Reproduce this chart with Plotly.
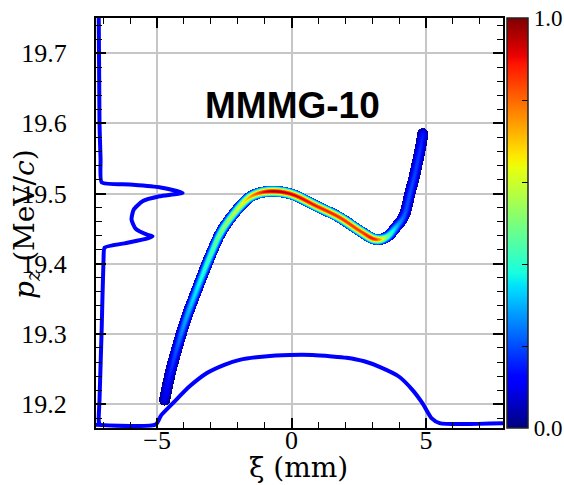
import numpy as np
import plotly.graph_objects as go

# ---- axis ranges -------------------------------------------------------
X_RANGE = [-7.27, 7.86]      # xi (mm)
Y_RANGE = [19.166, 19.75]    # p_z (MeV/c)

# ---- beam centreline in longitudinal phase space -----------------------
beam_xi = [-4.72, -4.54, -4.28, -3.90, -3.42, -2.97, -2.56, -1.93, -1.45,
           -0.80, 0.00, 0.93, 1.78, 2.53, 3.09, 3.53, 3.90, 4.20, 4.40,
           4.58, 4.72, 4.83, 4.88]
beam_pz = [19.206, 19.239, 19.277, 19.324, 19.373, 19.416, 19.449, 19.481,
           19.497, 19.503, 19.499, 19.482, 19.466, 19.447, 19.435, 19.438,
           19.453, 19.470, 19.500, 19.527, 19.552, 19.573, 19.585]
# normalised peak density along the centreline
beam_density = [0.10, 0.15, 0.21, 0.30, 0.38, 0.45, 0.52, 0.62, 0.78,
                0.96, 0.94, 0.90, 0.88, 0.86, 0.88, 0.52, 0.32, 0.22, 0.20,
                0.19, 0.18, 0.16, 0.14]

# ---- energy spectrum drawn along the left edge -------------------------
spec_xi = [-7.17, -7.14, -7.10, -7.06, -6.02, -4.91, -4.05, -4.91, -5.54,
           -5.87, -5.95, -5.80, -5.35, -5.17, -5.35, -6.21, -6.95, -6.99,
           -7.06, -7.14, -7.17, -7.14]
spec_pz = [19.76, 19.60, 19.549, 19.516, 19.513, 19.509, 19.501, 19.496,
           19.489, 19.477, 19.463, 19.450, 19.441, 19.439, 19.436, 19.429,
           19.423, 19.406, 19.306, 19.206, 19.177, 19.171]

# ---- current profile drawn along the bottom edge -----------------------
curr_xi = [-7.4, -5.05, -4.85, -4.42, -3.80, -3.16, -2.50, -1.93, -1.00,
           -0.07, 0.78, 1.50, 2.04, 2.70, 3.27, 4.00, 4.50, 4.87, 5.20,
           5.50, 8.0]
curr_pz = [19.171, 19.171, 19.184, 19.201, 19.225, 19.244, 19.256, 19.263,
           19.268, 19.270, 19.270, 19.268, 19.266, 19.261, 19.253, 19.239,
           19.220, 19.201, 19.180, 19.173, 19.173]

# ---- colour bar ticks ---------------------------------------------------
cbar_vals = [0.0, 0.2, 0.4, 0.6, 0.8, 1.0]
cbar_text = ["0.0", "", "", "", "", "1.0"]

# ---- figure geometry ------------------------------------------------------
W, H = 564, 485
ML, MR, MT, MB = 96, 61, 18, 57
PW, PH = W - ML - MR, H - MT - MB
KX = PW / (X_RANGE[1] - X_RANGE[0])   # px per mm
KY = PH / (Y_RANGE[1] - Y_RANGE[0])   # px per MeV/c

TICK_FONT = dict(family="Liberation Serif", size=26, color="black")
CBAR_FONT = dict(family="Liberation Serif", size=23, color="black")
LABEL_FONT = dict(family="DejaVu Serif", size=28, color="black")


def jet_scale(n=64):
    """matplotlib-style jet colour map as a plotly colorscale."""
    t = np.linspace(0, 1, n)
    r = np.interp(t, [0, 0.35, 0.66, 0.89, 1], [0, 0, 1, 1, 0.5])
    g = np.interp(t, [0, 0.125, 0.375, 0.64, 0.91, 1], [0, 0, 1, 1, 0, 0])
    b = np.interp(t, [0, 0.11, 0.34, 0.65, 1], [0.5, 1, 1, 0, 0])
    return [[float(v), f"rgb({int(255*rr)},{int(255*gg)},{int(255*bb)})"]
            for v, rr, gg, bb in zip(t, r, g, b)]


def catmull_rom(px, py, pv, steps=24):
    """Smooth path through the centreline nodes (screen units)."""
    P = np.column_stack([px, py, pv])
    P = np.vstack([P[0], P, P[-1]])
    out = []
    for i in range(1, len(P) - 2):
        p0, p1, p2, p3 = P[i - 1], P[i], P[i + 1], P[i + 2]
        for s in np.linspace(0, 1, steps, endpoint=False):
            s2, s3 = s * s, s * s * s
            out.append(0.5 * ((2 * p1) + (-p0 + p2) * s
                              + (2 * p0 - 5 * p1 + 4 * p2 - p3) * s2
                              + (-p0 + 3 * p1 - 3 * p2 + p3) * s3))
    out.append(P[-2])
    return np.array(out)


# density map on a one-pixel grid
gx = X_RANGE[0] + (np.arange(PW) + 0.5) / KX
gy = Y_RANGE[0] + (np.arange(PH) + 0.5) / KY
GXp, GYp = np.meshgrid(np.arange(PW) + 0.5, np.arange(PH) + 0.5)
Z = np.full((PH, PW), np.nan)

path = catmull_rom((np.array(beam_xi) - X_RANGE[0]) * KX,
                   (np.array(beam_pz) - Y_RANGE[0]) * KY,
                   np.array(beam_density))
HALF_W, SIGMA = 5.6, 3.0
for sx, sy, d in path:
    i0, i1 = max(int(sx - 8), 0), min(int(sx + 9), PW)
    j0, j1 = max(int(sy - 8), 0), min(int(sy + 9), PH)
    r2 = (GXp[j0:j1, i0:i1] - sx) ** 2 + (GYp[j0:j1, i0:i1] - sy) ** 2
    val = np.where(r2 <= HALF_W ** 2,
                   np.maximum(d * np.exp(-r2 / (2 * SIGMA ** 2)), 0.02),
                   np.nan)
    Z[j0:j1, i0:i1] = np.fmax(Z[j0:j1, i0:i1], val)
Z = np.round(Z, 3)

fig = go.Figure()
fig.add_trace(go.Heatmap(
    x=gx, y=gy, z=Z, zmin=0, zmax=1, colorscale=jet_scale(),
    zsmooth=False, hoverinfo="skip",
    colorbar=dict(
        thickness=21, thicknessmode="pixels", len=1, lenmode="fraction",
        x=(507 - ML) / PW, xanchor="left", xpad=0, y=0.5, yanchor="middle",
        ypad=0, outlinewidth=1.5, outlinecolor="#222",
        tickmode="array", tickvals=cbar_vals, ticktext=cbar_text,
        ticks="inside", ticklen=6, tickwidth=1.3, tickcolor="black",
        tickfont=CBAR_FONT,
    ),
))
fig.add_trace(go.Scatter(x=spec_xi, y=spec_pz, mode="lines",
                         line=dict(color="#0000ff", width=4, shape="spline",
                                   smoothing=0.5),
                         hoverinfo="skip", showlegend=False))
fig.add_trace(go.Scatter(x=curr_xi, y=curr_pz, mode="lines",
                         line=dict(color="#0000ff", width=4, shape="spline",
                                   smoothing=0.6),
                         hoverinfo="skip", showlegend=False))

axis_common = dict(
    showline=True, linecolor="black", linewidth=2, mirror="ticks",
    ticks="inside", ticklen=10, tickwidth=1.5, tickcolor="black",
    showgrid=True, gridcolor="#c6c6c6", gridwidth=1.5, zeroline=False,
    tickfont=TICK_FONT,
)
fig.update_xaxes(range=X_RANGE, tickvals=[-5, 0, 5], ticktext=["−5", "0", "5"],
                 minor=dict(dtick=1, tick0=0, ticks="inside", ticklen=6,
                            tickwidth=1.2, tickcolor="black", showgrid=False),
                 ticklabelstandoff=-12, **axis_common)
fig.update_yaxes(range=Y_RANGE, tick0=19.2, dtick=0.1, tickformat=".1f",
                 minor=dict(dtick=0.02, tick0=19.2, ticks="inside", ticklen=6,
                            tickwidth=1.2, tickcolor="black", showgrid=False),
                 ticklabelstandoff=22, **axis_common)

fig.update_layout(
    width=W, height=H,
    margin=dict(l=ML, r=MR, t=MT, b=MB, autoexpand=False),
    paper_bgcolor="white", plot_bgcolor="white", showlegend=False,
    annotations=[
        dict(text="<b>MMMG-10</b>", x=0.05, y=19.626, xref="x", yref="y",
             xanchor="center", yanchor="middle", showarrow=False,
             font=dict(family="Liberation Sans", size=37, color="black")),
        dict(text="ξ (mm)", x=(298 - ML) / PW, y=-(467 - MT - PH) / PH,
             xref="paper", yref="paper", xanchor="center", yanchor="middle",
             showarrow=False, font=LABEL_FONT),
        dict(text="<i>p</i><sub><i>z</i></sub> (MeV/<i>c</i>)",
             x=-(ML - 26) / PW, y=1 - (224 - MT) / PH,
             xref="paper", yref="paper", xanchor="center", yanchor="middle",
             showarrow=False, textangle=-90, font=LABEL_FONT),
    ],
)

fig.write_html("out.html")
